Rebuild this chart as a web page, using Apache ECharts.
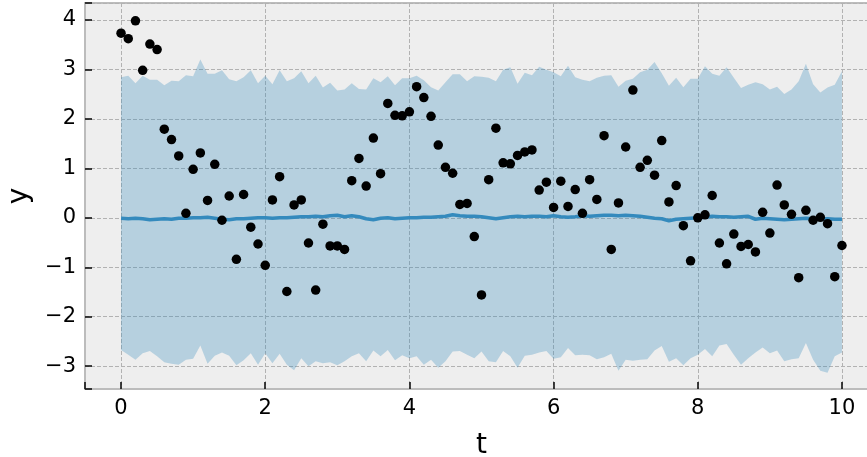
<!DOCTYPE html>
<html>
<head>
<meta charset="utf-8">
<script src="https://cdn.jsdelivr.net/npm/echarts@6/dist/echarts.min.js"></script>
<style>html,body{margin:0;padding:0;background:#fff}#c{width:867px;height:457px}</style>
</head>
<body>
<div id="c"></div>
<script>
var tValues = [];
for (var k = 0; k <= 100; k++) tValues.push(+(k * 0.1).toFixed(1));

var observed = [
  3.73, 3.62, 3.98, 2.98, 3.51, 3.40, 1.79, 1.58, 1.25, 0.09,
  0.98, 1.31, 0.35, 1.08, -0.05, 0.44, -0.84, 0.47, -0.19, -0.53,
  -0.96, 0.36, 0.83, -1.49, 0.26, 0.36, -0.51, -1.46, -0.13, -0.57,
  -0.57, -0.64, 0.75, 1.20, 0.64, 1.61, 0.89, 2.31, 2.07, 2.06,
  2.14, 2.65, 2.43, 2.05, 1.47, 1.02, 0.90, 0.27, 0.29, -0.38,
  -1.56, 0.77, 1.81, 1.11, 1.09, 1.26, 1.33, 1.37, 0.56, 0.72,
  0.21, 0.74, 0.23, 0.57, 0.09, 0.77, 0.37, 1.66, -0.64, 0.30,
  1.43, 2.58, 1.02, 1.16, 0.86, 1.56, 0.32, 0.65, -0.16, -0.87,
  0.00, 0.06, 0.45, -0.51, -0.93, -0.33, -0.58, -0.54, -0.69, 0.11,
  -0.31, 0.66, 0.26, 0.07, -1.21, 0.15, -0.05, 0.01, -0.12, -1.19,
  -0.56
];

var upperBand = [
  2.84, 2.87, 2.72, 2.87, 2.79, 2.79, 2.68, 2.77, 2.76, 2.88,
  2.86, 3.20, 2.91, 2.91, 2.98, 2.80, 2.76, 2.84, 2.98, 2.72,
  2.87, 2.70, 2.98, 2.76, 2.82, 2.96, 2.72, 2.87, 2.63, 2.73,
  2.57, 2.59, 2.72, 2.60, 2.59, 2.82, 2.74, 2.86, 2.68, 2.82,
  2.82, 2.87, 2.78, 2.64, 2.57, 2.74, 2.90, 2.90, 2.76, 2.86,
  2.85, 2.83, 2.76, 2.99, 3.04, 2.71, 2.93, 2.88, 3.05, 2.99,
  2.94, 2.86, 3.07, 2.84, 2.79, 2.76, 2.83, 2.87, 2.88, 2.65,
  2.77, 2.81, 2.94, 2.99, 3.15, 2.92, 2.67, 2.83, 2.64, 2.81,
  2.81, 3.06, 2.91, 2.87, 3.04, 2.83, 2.62, 2.69, 2.74, 2.70,
  2.59, 2.65, 2.50, 2.59, 2.76, 3.11, 2.70, 2.53, 2.63, 2.69,
  2.96
];

var lowerBand = [
  -2.67, -2.77, -2.87, -2.74, -2.69, -2.80, -2.92, -2.95, -2.97, -2.87,
  -2.85, -2.58, -2.95, -2.79, -2.72, -2.79, -2.98, -2.88, -2.74, -2.97,
  -2.74, -2.94, -2.75, -2.97, -3.08, -2.84, -3.00, -2.90, -2.94, -2.92,
  -2.98, -2.90, -2.80, -2.74, -2.90, -2.68, -2.80, -2.67, -2.88, -2.78,
  -2.84, -2.80, -2.97, -2.87, -3.03, -2.90, -2.70, -2.69, -2.77, -2.84,
  -2.70, -2.90, -2.92, -2.69, -2.80, -3.03, -2.79, -2.77, -2.72, -2.69,
  -2.85, -2.82, -2.63, -2.78, -2.77, -2.78, -2.86, -2.82, -2.75, -3.09,
  -2.87, -2.89, -2.87, -2.86, -2.68, -2.59, -2.91, -2.84, -2.98, -2.84,
  -2.77, -2.65, -2.80, -2.58, -2.55, -2.77, -2.97, -2.84, -2.72, -2.62,
  -2.74, -2.68, -2.90, -2.86, -2.84, -2.53, -2.87, -3.09, -3.13, -2.80,
  -2.72
];

var meanLine = [
  -0.01, -0.02, -0.01, -0.02, -0.04, -0.03, -0.02, -0.03, -0.01, -0.01,
  0.00, 0.00, 0.01, -0.01, -0.03, -0.04, -0.02, -0.02, -0.01, 0.00,
  0.00, -0.01, 0.00, 0.00, 0.01, 0.02, 0.02, 0.03, 0.02, 0.04,
  0.05, 0.02, 0.04, 0.02, -0.02, -0.04, -0.01, 0.00, -0.02, -0.01,
  0.00, 0.00, 0.01, 0.01, 0.02, 0.03, 0.06, 0.04, 0.03, 0.03,
  0.02, 0.00, -0.02, 0.00, 0.02, 0.03, 0.02, 0.03, 0.03, 0.02,
  0.04, 0.02, 0.01, 0.02, 0.04, 0.03, 0.04, 0.05, 0.05, 0.04,
  0.05, 0.04, 0.03, 0.01, -0.01, -0.02, -0.06, -0.03, -0.02, -0.01,
  0.00, 0.01, 0.03, 0.02, 0.02, 0.01, 0.02, 0.03, -0.03, -0.01,
  -0.02, -0.03, -0.04, -0.03, -0.02, -0.01, -0.02, -0.03, -0.02, -0.03,
  -0.03
];

var xLabelValues = [0, 2, 4, 6, 8, 10];
var yLabelValues = [-3, -2, -1, 0, 1, 2, 3, 4];

var chart = echarts.init(document.getElementById('c'), null, {renderer: 'canvas'});
var font = 'DejaVu Sans';

function fmt(v) {
  return String(v).replace('-', '\u2212');
}

var option = {
  animation: false,
  backgroundColor: '#ffffff',
  grid: {
    left: 85, top: 3, right: -11, bottom: 68,
    outerBoundsMode: 'none',
    containLabel: false,
    show: true, backgroundColor: '#eeeeee', borderColor: '#bcbcbc', borderWidth: 2
  },
  xAxis: {
    type: 'value', min: -0.5, max: 10.5, splitNumber: 5,
    name: 't', nameLocation: 'middle', nameGap: 43,
    nameTextStyle: {fontFamily: font, fontSize: 28, color: '#000'},
    axisLine: {show: true, onZero: false, lineStyle: {color: '#bcbcbc', width: 2}},
    axisTick: {show: true, inside: true, length: 7, lineStyle: {color: '#111', width: 1.6}},
    axisLabel: {fontFamily: font, fontSize: 21, color: '#000', margin: 9, customValues: xLabelValues, formatter: fmt},
    splitLine: {show: true, lineStyle: {color: '#b2b2b2', width: 1, type: [4, 2]}}
  },
  yAxis: {
    type: 'value', min: -3.46, max: 4.34, splitNumber: 8,
    name: 'y', nameLocation: 'middle', nameGap: 50, nameRotate: 90,
    nameTextStyle: {fontFamily: font, fontSize: 28, color: '#000'},
    axisLine: {show: true, onZero: false, lineStyle: {color: '#bcbcbc', width: 2}},
    axisTick: {show: true, inside: true, length: 7, lineStyle: {color: '#111', width: 1.6}},
    axisLabel: {fontFamily: font, fontSize: 21, color: '#000', margin: 9, customValues: yLabelValues, formatter: fmt},
    splitLine: {show: true, lineStyle: {color: '#b2b2b2', width: 1, type: [4, 2]}}
  },
  series: [
    {
      type: 'custom',
      silent: true,
      clip: true,
      z: 1,
      data: tValues.map(function (x, i) { return [x, lowerBand[i], upperBand[i]]; }),
      encode: {x: 0, y: [1, 2]},
      renderItem: function (params, api) {
        if (params.dataIndex !== 0) return null;
        var pts = [];
        for (var i = 0; i < tValues.length; i++) pts.push(api.coord([tValues[i], upperBand[i]]));
        for (var j = tValues.length - 1; j >= 0; j--) pts.push(api.coord([tValues[j], lowerBand[j]]));
        return {type: 'polygon', shape: {points: pts}, style: {fill: 'rgba(52,138,189,0.3)', stroke: null}};
      }
    },
    {
      type: 'line',
      z: 3,
      showSymbol: false,
      data: tValues.map(function (x, i) { return [x, meanLine[i]]; }),
      lineStyle: {color: '#348ABD', width: 3.6},
      silent: true
    },
    {
      type: 'scatter',
      z: 4,
      symbol: 'circle',
      symbolSize: 9.5,
      data: tValues.map(function (x, i) { return [x, observed[i]]; }),
      itemStyle: {color: '#000000', opacity: 1},
      silent: true
    }
  ]
};
chart.setOption(option);
</script>
</body>
</html>
